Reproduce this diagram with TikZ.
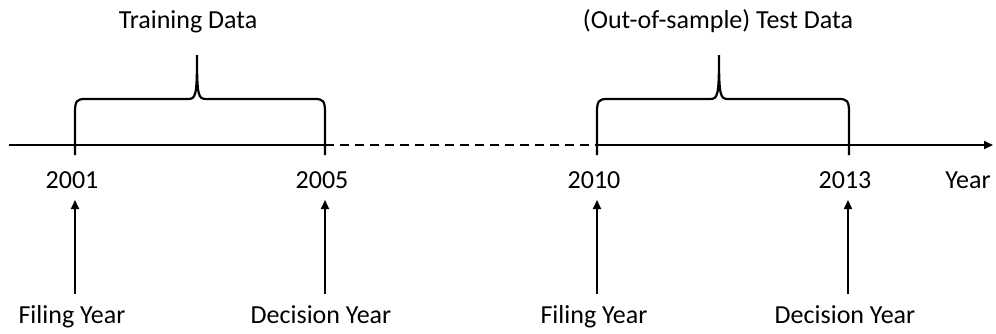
\documentclass[tikz,border=0pt]{standalone}
\usepackage{fontspec}
\setmainfont{Carlito}
\usetikzlibrary{arrows.meta}
\tikzset{
  lbl/.style={inner sep=0pt, anchor=base, font=\fontsize{26}{30}\selectfont},
  ln/.style={line width=1.9pt, black},
  bracestyle/.style={line width=2.2pt, black},
  arr/.style={line width=1.9pt, -{Triangle[length=9pt,width=8pt]}},
}
\newcommand{\mybrace}[3]{%
  \draw[bracestyle] (#1,155) -- (#1,112) .. controls (#1,101) and (#1+2,99) .. (#1+10,99)
    -- (#3-9,99) .. controls (#3-1,99) and (#3,95) .. (#3,55)
    .. controls (#3,95) and (#3+1,99) .. (#3+9,99)
    -- (#2-10,99) .. controls (#2-2,99) and (#2,101) .. (#2,112) -- (#2,155);}
\begin{document}
\begin{tikzpicture}[x=1pt,y=-1pt]
\useasboundingbox (0,0) rectangle (996,333);
% axis
\coordinate (a0) at (9,145);
\coordinate (a1) at (325,145);
\coordinate (a2) at (597,145);
\coordinate (a3) at (993,145);
\draw[ln] (a0) -- (a1);
\draw[ln, dash pattern=on 9pt off 6pt] (a1) -- (a2);
\draw[arr] (a2) -- (a3);
% braces
\mybrace{75}{325}{197}
\mybrace{597}{849}{719}
% titles
\node[lbl] (t1) at (188,28) {Training Data};
\node[lbl] (t2) at (718,28) {(Out-of-sample) Test Data};
% years
\node[lbl] (y1) at (72,188) {2001};
\node[lbl] (y2) at (322,188) {2005};
\node[lbl] (y3) at (594,188) {2010};
\node[lbl] (y4) at (845,188) {2013};
\node[lbl] (yr) at (968,188) {Year};
% bottom labels
\node[lbl] (f1) at (72,323) {Filing Year};
\node[lbl] (d1) at (321,323) {Decision Year};
\node[lbl] (f2) at (594,323) {Filing Year};
\node[lbl] (d2) at (845,323) {Decision Year};
% arrows
\foreach \x/\n in {75/p1,325/p2,597/p3,848/p4}{
  \coordinate (\n b) at (\x,294);
  \coordinate (\n t) at (\x,200);
  \draw[arr] (\n b) -- (\n t);
}
\end{tikzpicture}
\end{document}
